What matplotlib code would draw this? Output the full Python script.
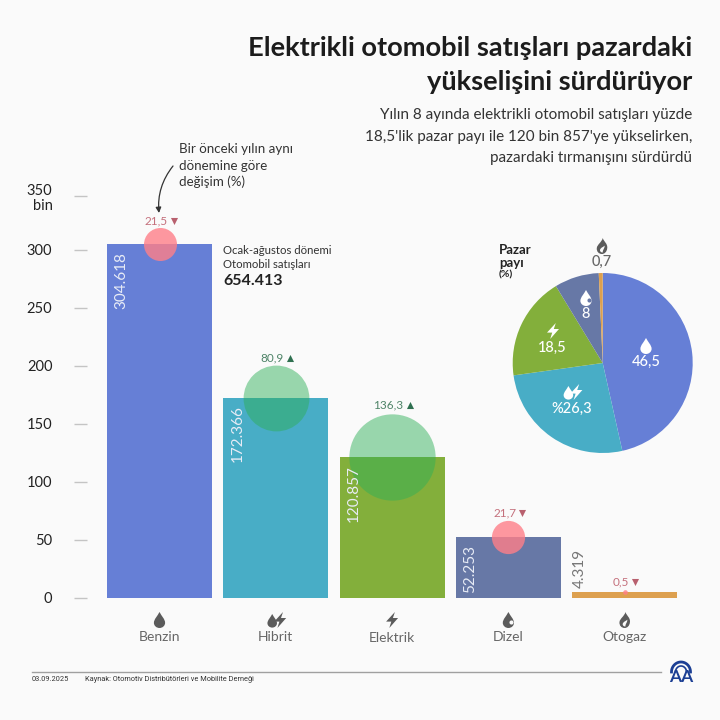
import numpy as np
import matplotlib
matplotlib.use("Agg")
import matplotlib.pyplot as plt
from matplotlib.path import Path
from matplotlib.patches import PathPatch

plt.rcParams['font.family'] = ['Lato', 'DejaVu Sans']

categories = ["Benzin", "Hibrit", "Elektrik", "Dizel", "Otogaz"]
sales = [304.618, 172.366, 120.857, 52.253, 4.319]
sales_labels = ["304.618", "172.366", "120.857", "52.253", "4.319"]
change = [21.5, 80.9, 136.3, 21.7, 0.5]
change_labels = ["21,5", "80,9", "136,3", "21,7", "0,5"]
change_up = [False, True, True, False, False]
share = [46.5, 26.3, 18.5, 8, 0.7]
share_labels = ["46,5", "%26,3", "18,5", "8", "0,7"]
tick_values = [0, 50, 100, 150, 200, 250, 300, 346]
tick_labels = ["0", "50", "100", "150", "200", "250", "300", "350\nbin"]

colors = ["#667fd6", "#48adc6", "#83af3b", "#6778a6", "#dda04f"]
bg = "#fafafa"
red = "#ff7f88"
green = "#2eaf57"

fig = plt.figure(figsize=(7.2, 7.2), dpi=100, facecolor=bg)

# bars, placed in pixels of the 720 picture
ax = fig.add_axes([87 / 720, 122.5 / 720, 603 / 720, 417.5 / 720])
ax.set_facecolor("none")
ax.set_xlim((87 - 159.5) / 116.3, (690 - 159.5) / 116.3)
ax.set_ylim(0, 417.5 / 1.16)
x = np.arange(len(categories))
ax.bar(x, sales, width=0.903, color=colors, zorder=2)
for s in ax.spines.values():
    s.set_visible(False)
ax.set_xticks([])
ax.set_yticks(tick_values)
ax.set_yticklabels(tick_labels, fontsize=10.5, color="#222222", linespacing=1.15, ha="right")
ax.tick_params(axis="y", length=9.4, width=1, color="#c4c4c4", pad=15.5)

# bubbles for the yearly change
for i in range(len(x)):
    r = 3.35 * change[i] ** 0.52
    c = green if change_up[i] else red
    a = 0.48 if change_up[i] else 0.8
    ax.scatter(x[i], sales[i], s=(2 * r * 0.72) ** 2, color=c, alpha=a, lw=0, zorder=3, clip_on=False)

for i in range(len(x)):
    if i == 4:
        ax.annotate(sales_labels[i], (x[i] - 0.4515, sales[i]), xytext=(8 * 0.72, 3.5), textcoords="offset points",
                    rotation=90, ha="center", va="bottom", fontsize=11, color="#777777", zorder=4)
    else:
        ax.annotate(sales_labels[i], (x[i] - 0.4515, sales[i]), xytext=(14 * 0.72, -5.5), textcoords="offset points",
                    rotation=90, ha="center", va="top", fontsize=11, color="#e8ecf6", zorder=4)

# pie
pax = fig.add_axes([512.7 / 720, (720 - 453) / 720, 180 / 720, 180 / 720])
pax.pie(share, colors=colors, startangle=90, counterclock=False, radius=1)
pax.set_xlim(-1, 1)
pax.set_ylim(-1, 1)

# overlay in pixel coordinates for text and icons
ov = fig.add_axes([0, 0, 1, 1], zorder=10)
ov.set_xlim(0, 720)
ov.set_ylim(720, 0)
ov.axis("off")


def cubic(pts):
    codes = [Path.MOVETO] + [Path.CURVE4] * (len(pts) - 1)
    return Path(np.array(pts, float), codes)


DROP = cubic([(0, -1), (0.25, -0.5), (0.7, -0.1), (0.7, 0.35), (0.7, 0.75), (0.35, 1), (0, 1),
              (-0.35, 1), (-0.7, 0.75), (-0.7, 0.35), (-0.7, -0.1), (-0.25, -0.5), (0, -1)])
BOLT = Path(np.array([(0.35, -1), (-0.75, 0.2), (-0.1, 0.2), (-0.35, 1), (0.75, -0.25), (0.1, -0.25), (0.35, -1)], float))
FLAME = cubic([(0.1, -1), (0.2, -0.55), (0.75, -0.3), (0.65, 0.3), (0.6, 0.75), (0.3, 1), (0, 1),
               (-0.4, 1), (-0.7, 0.7), (-0.65, 0.25), (-0.6, -0.2), (-0.05, -0.45), (0.1, -1)])
FLAME_IN = cubic([(0.35, -0.05), (0.2, 0.1), (-0.2, 0.2), (-0.25, 0.5), (-0.28, 0.7), (-0.05, 0.85), (0.1, 0.8),
                  (0.05, 0.55), (0.3, 0.35), (0.35, -0.05)])


def put(path, cx, cy, size, color):
    v = path.vertices * size + [cx, cy]
    ov.add_patch(PathPatch(Path(v, path.codes), fc=color, ec="none"))


def icon(kind, cx, cy, size, color, hole=bg):
    if kind == "Benzin":
        put(DROP, cx, cy, size, color)
    elif kind == "Hibrit":
        put(DROP, cx - size * 0.45, cy + size * 0.1, size * 0.85, color)
        put(BOLT, cx + size * 0.55, cy, size, color)
    elif kind == "Elektrik":
        put(BOLT, cx, cy, size, color)
    elif kind == "Dizel":
        put(DROP, cx, cy, size, color)
        ov.scatter(cx + size * 0.38, cy + size * 0.25, s=size * 1.1, color=hole, lw=0, zorder=3)
    else:
        put(FLAME, cx, cy, size, color)
        put(FLAME_IN, cx, cy, size, hole)


# change labels with small triangles
label_y = [221, 358, 405, 513, 582]
centers = [159.5, 275.8, 392.1, 508.4, 624.7]
fig.canvas.draw()
rend = fig.canvas.get_renderer()
for i in range(5):
    up = change_up[i]
    t = ov.text(centers[i] - 3.5, label_y[i], change_labels[i], ha="center", va="center", fontsize=8.5,
                color="#4f8468" if up else "#c4707c")
    right = t.get_window_extent(rend).x1
    ov.scatter(right + 6, label_y[i], s=26, marker="^" if up else "v", lw=0,
               color="#2f7050" if up else "#b8606e")

# category names and icons
name_y = [637, 637, 638, 637, 637]
for i, name in enumerate(categories):
    ov.text(centers[i], name_y[i], name, ha="center", va="center", fontsize=10, color="#666666")
    icon(name, centers[i], 620, 8, "#5b5b5b")

# pie labels
pie_text = [(646, 362), (572, 409), (552, 348), (586, 314), (602, 262)]
pie_icon = [(646, 346), (572, 392), (553, 331), (586, 298), (602, 246)]
for i, name in enumerate(categories):
    col = "#666666" if i == 4 else "white"
    ov.text(pie_text[i][0], pie_text[i][1], share_labels[i], ha="center", va="center", fontsize=10.5,
            color=col, fontweight="medium")
    hole = bg if i == 4 else colors[i]
    icon(name, pie_icon[i][0], pie_icon[i][1], 8, col if i != 4 else "#5b5b5b", hole=hole)

ov.text(499, 250, "Pazar", fontsize=9.5, fontweight="bold", va="center", color="#222222")
ov.text(499, 263, "payı", fontsize=9.5, fontweight="bold", va="center", color="#222222")
ov.text(499, 275, "(%)", fontsize=7.5, fontweight="bold", va="center", color="#222222")

# titles
ov.text(692, 48, "Elektrikli otomobil satışları pazardaki", ha="right", va="center", fontsize=19.6,
        fontweight="bold", color="#1c1c1c")
ov.text(692, 82, "yükselişini sürdürüyor", ha="right", va="center", fontsize=19.6,
        fontweight="bold", color="#1c1c1c")
ov.text(692, 115, "Yılın 8 ayında elektrikli otomobil satışları yüzde", ha="right", va="center",
        fontsize=10.95, color="#333333")
ov.text(692, 137, "18,5'lik pazar payı ile 120 bin 857'ye yükselirken,", ha="right", va="center",
        fontsize=10.95, color="#333333")
ov.text(692, 158, "pazardaki tırmanışını sürdürdü", ha="right", va="center", fontsize=10.95, color="#333333")

# note with arrow
ov.text(179, 149, "Bir önceki yılın aynı", fontsize=9.6, va="center", color="#333333")
ov.text(179, 166, "dönemine göre", fontsize=9.6, va="center", color="#333333")
ov.text(179, 182, "değişim (%)", fontsize=9.6, va="center", color="#333333")
ov.annotate("", xy=(159, 213), xytext=(173, 166),
            arrowprops=dict(arrowstyle="-|>", color="#333333", lw=0.9, mutation_scale=8,
                            connectionstyle="arc3,rad=0.2", shrinkA=0, shrinkB=0))

ov.text(223, 250, "Ocak-ağustos dönemi", fontsize=8.2, va="center", color="#333333")
ov.text(223, 264, "Otomobil satışları", fontsize=8.2, va="center", color="#333333")
ov.text(223, 281, "654.413", fontsize=11.5, fontweight="bold", va="center", color="#222222")

# footer
ov.plot([32, 661], [672, 672], color="#a0a0a0", lw=1)
ov.text(32, 679.5, "03.09.2025", fontsize=5.3, va="center", color="#333333", family="Roboto")
ov.text(85, 679.5, "Kaynak: Otomotiv Distribütörleri ve Mobilite Derneği", fontsize=5.3, va="center",
        color="#333333", family="Roboto")

# AA logo
ang = np.linspace(np.pi, 2 * np.pi, 40)
ov.plot(681 + 9.5 * np.cos(ang), 672 + 10 * np.sin(ang), color="#1c3f94", lw=2)
ov.plot(681 + 5.5 * np.cos(ang), 672 + 6 * np.sin(ang), color="#1c3f94", lw=1.2)
ov.text(681, 677.5, "AA", ha="center", va="center", fontsize=12.5, fontweight="bold", color="#1c3f94")

fig.savefig("out.png", dpi=100, facecolor=bg)
